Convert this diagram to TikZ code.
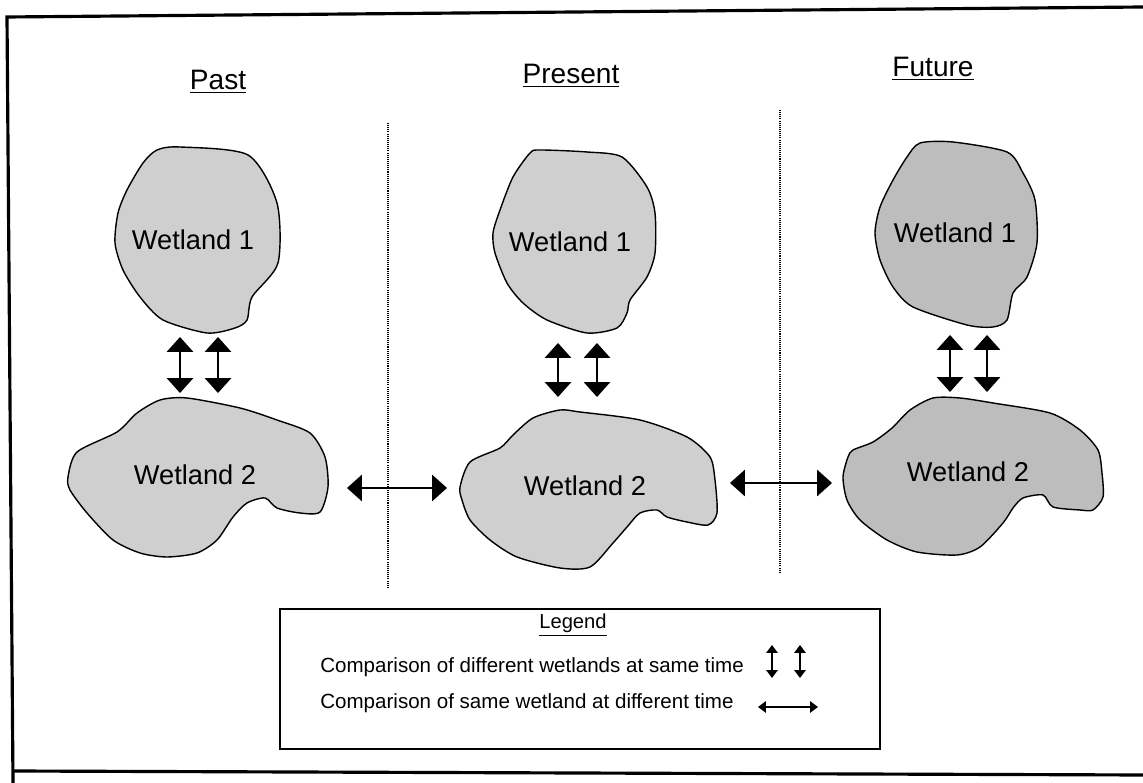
\documentclass[tikz,border=0pt]{standalone}
\usepackage{fontspec}
\setmainfont{Liberation Sans}
\usetikzlibrary{arrows.meta}
\begin{document}
\begin{tikzpicture}[x=0.02cm,y=-0.02cm,
  wet/.style={draw=black, line width=0.8pt, fill=gray!38},
  wetdark/.style={wet, fill=gray!52},
  lbl/.style={font=\fontsize{15.5}{18}\selectfont, inner sep=1pt},
  head/.style={font=\fontsize{16}{19}\selectfont, inner sep=1pt},
  bigarrow/.style={line width=1pt, {Triangle[length=8.5pt,width=15pt]}-{Triangle[length=8.5pt,width=15pt]}},
  smallarrow/.style={line width=0.8pt, {Triangle[length=4.5pt,width=6.5pt]}-{Triangle[length=4.5pt,width=6.5pt]}},
  sep/.style={dash pattern=on 0.6pt off 0.6pt, line width=0.6pt},
  legtext/.style={font=\fontsize{11.7}{14}\selectfont, anchor=west, inner sep=0pt},
  frame/.style={line width=1.8pt}]
\useasboundingbox (0,0) rectangle (1143,783);

% outer frame
\draw[frame] (1143,7) -- (7,17) -- (13,783);
\draw[frame] (13,771) -- (1143,775);

% headings
\node[head] (hpast) at (218,82) {\underline{Past}};
\node[head] (hpres) at (571,76) {\underline{Present}};
\node[head] (hfut) at (933,69) {\underline{Future}};

% separators
\draw[sep] (388,123) -- (388,587);
\draw[sep] (780,110) -- (780,572);

% Past wetlands
\draw[wet] plot[smooth cycle, tension=0.45] coordinates {
 (180,147) (248,155) (277,203) (278,263) (252,297) (247,320) (235,328)
 (207,333) (163,320) (140,297) (123,270) (115,243) (118,213) (127,190)
 (143,163) (157,150)};
\node[lbl] (pw1) at (193,240) {Wetland 1};
\draw[wet] plot[smooth cycle, tension=0.45] coordinates {
 (77,452) (117,432) (137,413) (160,400) (187,398) (240,408) (277,420)
 (310,433) (325,457) (328,487) (320,512) (300,513) (277,508) (265,498)
 (247,503) (233,517) (217,540) (197,553) (167,557) (140,553) (113,540)
 (87,513) (70,490) (68,477)};
\node[lbl] (pw2) at (195,475) {Wetland 2};

% Present wetlands
\draw[wet] plot[smooth cycle, tension=0.45] coordinates {
 (540,150) (587,152) (622,157) (647,187) (655,213) (655,253) (647,277)
 (630,300) (627,313) (617,328) (587,333) (547,320) (523,303) (507,283)
 (495,253) (493,233) (500,210) (513,177) (530,153)};
\node[lbl] (rw1) at (570,242) {Wetland 1};
\draw[wet] plot[smooth cycle, tension=0.45] coordinates {
 (470,462) (500,448) (513,435) (533,418) (560,410) (580,412) (640,420)
 (687,437) (710,457) (715,480) (717,513) (708,525) (687,522) (667,517)
 (657,510) (640,513) (627,527) (613,543) (590,567) (560,568) (517,557)
 (490,540) (470,520) (462,500) (460,487)};
\node[lbl] (rw2) at (585,486) {Wetland 2};

% Future wetlands
\draw[wetdark] plot[smooth cycle, tension=0.45] coordinates {
 (920,143) (953,142) (1007,152) (1023,173) (1035,200) (1037,243) (1027,277)
 (1013,293) (1007,320) (993,327) (967,325) (913,307) (893,287) (880,260)
 (875,233) (880,207) (893,180) (907,157)};
\node[lbl] (fw1) at (955,233) {Wetland 1};
\draw[wetdark] plot[smooth cycle, tension=0.45] coordinates {
 (853,450) (873,442) (892,428) (910,410) (933,398) (960,398) (993,403)
 (1050,413) (1080,430) (1098,450) (1102,473) (1103,497) (1093,510) (1080,510)
 (1053,507) (1043,495) (1023,498) (1013,508) (1003,523) (980,547) (957,555)
 (917,552) (887,540) (860,520) (847,500) (843,477) (848,457)};
\node[lbl] (fw2) at (968,472) {Wetland 2};

% arrow end points
\coordinate (pa1t) at (180,337); \coordinate (pa1b) at (180,393);
\coordinate (pa2t) at (218,337); \coordinate (pa2b) at (218,393);
\coordinate (ra1t) at (558,343); \coordinate (ra1b) at (558,397);
\coordinate (ra2t) at (597,343); \coordinate (ra2b) at (597,397);
\coordinate (fa1t) at (950,335); \coordinate (fa1b) at (950,392);
\coordinate (fa2t) at (987,335); \coordinate (fa2b) at (987,392);
\coordinate (h1l) at (347,488); \coordinate (h1r) at (447,488);
\coordinate (h2l) at (730,483); \coordinate (h2r) at (832,483);

\draw[bigarrow] (pa1t) -- (pa1b);
\draw[bigarrow] (pa2t) -- (pa2b);
\draw[bigarrow] (ra1t) -- (ra1b);
\draw[bigarrow] (ra2t) -- (ra2b);
\draw[bigarrow] (fa1t) -- (fa1b);
\draw[bigarrow] (fa2t) -- (fa2b);
\draw[bigarrow] (h1l) -- (h1r);
\draw[bigarrow] (h2l) -- (h2r);

% legend
\draw[line width=1pt] (280,609) rectangle (880,749);
\node[font=\fontsize{11.5}{14}\selectfont, inner sep=1pt] (leg) at (573,625) {\underline{Legend}};
\node[legtext] (l1) at (320,667) {Comparison of different wetlands at same time};
\node[legtext] (l2) at (320,703) {Comparison of same wetland at different time};
\coordinate (lv1t) at (772,645); \coordinate (lv1b) at (772,678);
\coordinate (lv2t) at (800,645); \coordinate (lv2b) at (800,678);
\coordinate (lhl) at (758,707); \coordinate (lhr) at (818,707);
\draw[smallarrow] (lv1t) -- (lv1b);
\draw[smallarrow] (lv2t) -- (lv2b);
\draw[smallarrow] (lhl) -- (lhr);
\end{tikzpicture}
\end{document}
